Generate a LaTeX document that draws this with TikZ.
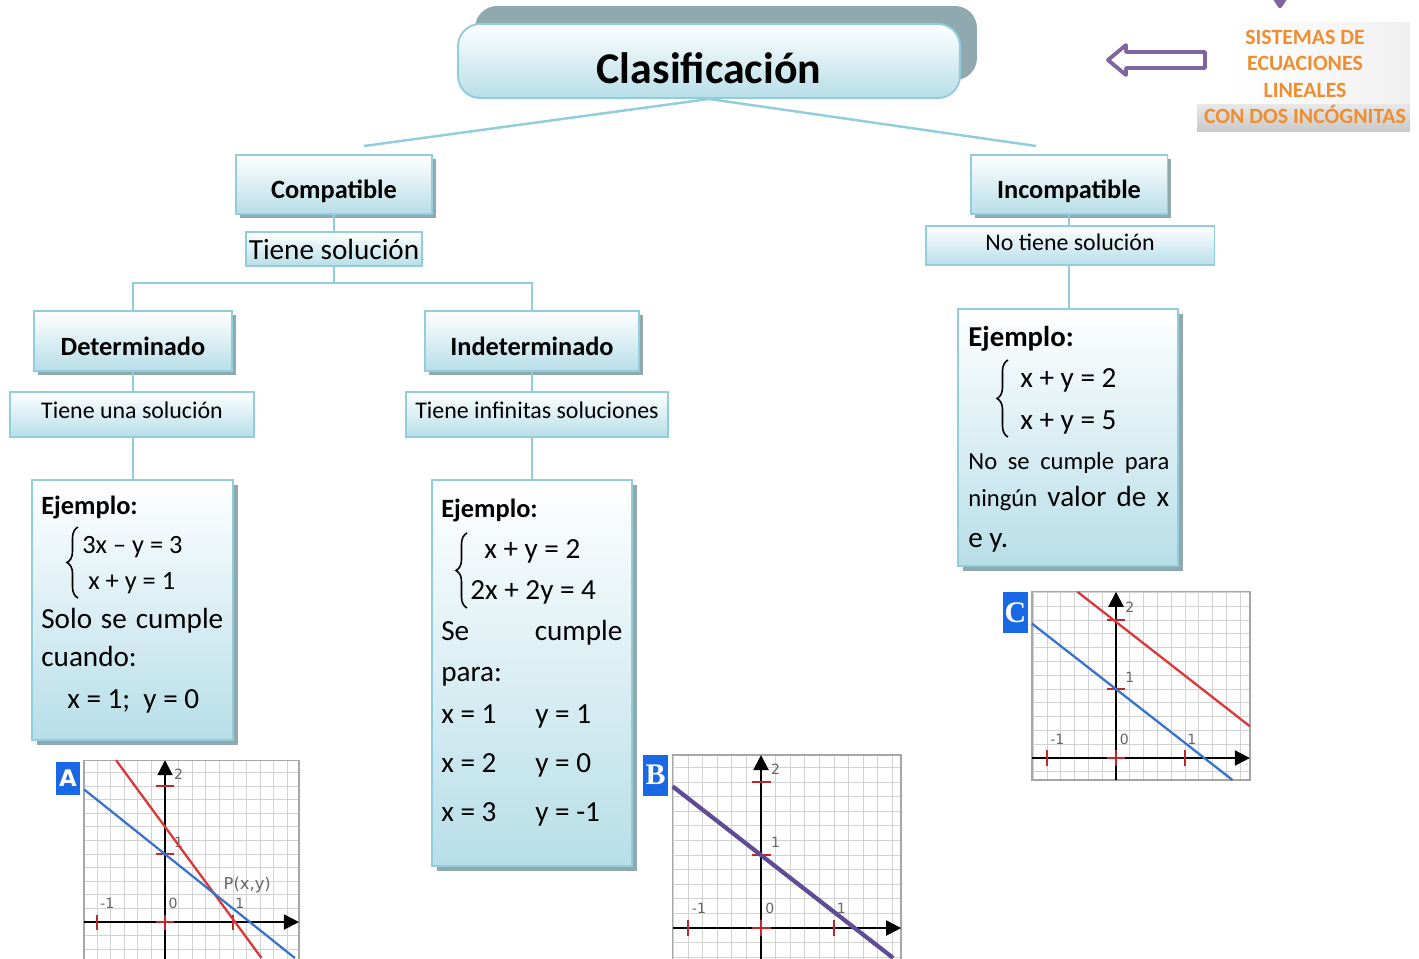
\documentclass[tikz,border=0pt]{standalone}
\usepackage{fontspec}
\setmainfont{Carlito}
\newfontfamily\verdana{DejaVu Sans}
\newfontfamily\serifletra{Liberation Serif}
\usetikzlibrary{arrows.meta,shadows,decorations.pathreplacing}

\definecolor{bordeazul}{RGB}{146,205,221}
\definecolor{fondoazul}{RGB}{183,222,232}
\definecolor{sombra}{RGB}{143,169,175}
\definecolor{naranja}{RGB}{238,142,48}
\definecolor{morado}{RGB}{128,100,162}
\definecolor{letrazul}{RGB}{25,105,230}
\definecolor{rojograf}{RGB}{220,55,55}
\definecolor{azulgraf}{RGB}{55,115,205}
\definecolor{moradograf}{RGB}{95,75,150}
\definecolor{marcaroja}{RGB}{190,40,40}

\tikzset{
  caja/.style={draw=bordeazul, line width=1.1pt, top color=white, bottom color=fondoazul, inner sep=0pt},
  sombreada/.style={drop shadow={shadow xshift=0.08cm, shadow yshift=-0.08cm, fill=sombra, opacity=1}},
  cabecera/.style={caja, sombreada, text height=16pt, text depth=0pt, font=\fontsize{15}{18}\selectfont\bfseries},
  etiqueta/.style={caja, text height=9pt, text depth=5pt, font=\fontsize{13.6}{16}\selectfont},
  ejemplo/.style={caja, drop shadow={shadow xshift=0.1cm, shadow yshift=-0.1cm, fill=sombra, opacity=1}},
  conector/.style={draw=bordeazul, line width=1.4pt},
  texto/.style={anchor=base west, inner sep=0pt, font=\fontsize{16.6}{20}\selectfont},
  negrita/.style={texto, font=\fontsize{15}{18}\selectfont\bfseries},
  ecuacion/.style={texto, font=\fontsize{15}{18}\selectfont},
  llave/.style={decorate, decoration={brace, amplitude=0.22cm}, line width=0.9pt},
  rejilla/.style={step=0.2, draw=gray!35, line width=0.5pt},
  marco/.style={draw=gray!70, line width=0.8pt},
  eje/.style={line width=1.2pt, -{Triangle[length=0.3cm, width=0.3cm]}},
  marca/.style={draw=marcaroja, line width=1.2pt},
  numgraf/.style={inner sep=0pt, text=gray!80!black, font=\verdana\fontsize{8}{9}\selectfont},
  letra/.style={fill=letrazul, text=white, inner sep=0pt, font=\bfseries}
}

% rejilla, ejes y marcas de una grafica: #1 prefijo, #2 xmin, #3 xmax, #4 ymin, #5 ymax
\newcommand{\ejes}[5]{%
  \fill[white] (#2,#4) rectangle (#3,#5);
  \draw[rejilla] (#2,#4) grid (#3,#5);
  \draw[marco] (#2,#4) rectangle (#3,#5);
  \draw[eje] (#2,0) -- (#3,0);
  \draw[eje] (0,#4) -- (0,#5);
  \foreach \t in {-1,0,1} \draw[marca] (\t,-0.11) -- (\t,0.11);
  \foreach \t in {0,1,2} \draw[marca] (-0.13,\t) -- (0.13,\t);
  \node[numgraf] (#1menosuno) at (-0.85,0.27) {-1};
  \node[numgraf] (#1cero) at (0.12,0.27) {0};
  \node[numgraf] (#1unox) at (1.1,0.27) {1};
  \node[numgraf] (#1unoy) at (0.2,1.17) {1};
  \node[numgraf] (#1dos) at (0.2,2.18) {2};
}

\begin{document}
\begin{tikzpicture}[x=0.02cm, y=-0.02cm]
\useasboundingbox (0,0) rectangle (1419,958);

% logo arriba a la derecha
\fill[left color=white, right color=gray!12] (1230,22) rectangle (1410,104);
\fill[top color=gray!18, bottom color=gray!42] (1197,104) rectangle (1410,131);
\node[align=center, text=naranja, inner sep=0pt, font=\fontsize{12.4}{15}\selectfont\bfseries]
  (sistemas) at (1305,77) {SISTEMAS DE\\ECUACIONES\\LINEALES\\CON DOS INCÓGNITAS};
\fill[morado, rounded corners=2pt] (1271,-4) -- (1289,-4) -- (1280,10) -- cycle;
\draw[morado, line width=2.2pt, line join=round, fill=white]
  (1205,52) -- (1126,52) -- (1126,45) -- (1108,60) -- (1126,75) -- (1126,68) -- (1205,68) -- cycle;

% titulo
\node[caja, rounded corners=0.44cm, minimum width=10.04cm, minimum height=1.48cm,
  drop shadow={shadow xshift=0.34cm, shadow yshift=0.36cm, fill=sombra, opacity=1},
  text height=26pt, text depth=0pt,
  font=\fontsize{25}{28}\selectfont\bfseries] (titulo) at (709,61) {Clasificación};
\coordinate (finC) at (364,146);
\coordinate (finI) at (1036,146);
\draw[conector] (titulo.south) -- (finC);
\draw[conector] (titulo.south) -- (finI);

% ramas
\node[cabecera, minimum width=3.92cm, minimum height=1.18cm] (compat) at (334,184.5) {Compatible};
\node[caja, minimum width=3.52cm, minimum height=0.68cm, font=\fontsize{16.6}{20}\selectfont] (tienesol) at (334,249) {Tiene solución};
\node[cabecera, minimum width=3.94cm, minimum height=1.18cm] (incompat) at (1069,184.5) {Incompatible};
\node[etiqueta, minimum width=5.78cm, minimum height=0.78cm, text height=10pt, text depth=4pt] (notiene) at (1070,245.5) {No tiene solución};
\node[cabecera, minimum width=3.96cm, minimum height=1.2cm] (determ) at (133,341) {Determinado};
\node[etiqueta, minimum width=4.88cm, minimum height=0.9cm] (unasol) at (132,414.5) {Tiene una solución};
\node[cabecera, minimum width=4.28cm, minimum height=1.2cm] (indeterm) at (532,341) {Indeterminado};
\node[etiqueta, minimum width=5.24cm, minimum height=0.9cm] (infsol) at (537,414.5) {Tiene infinitas soluciones};
\node[ejemplo, minimum width=4.02cm, minimum height=5.2cm] (ejA) at (132.5,610) {};
\node[ejemplo, minimum width=4.0cm, minimum height=7.72cm] (ejB) at (532,673) {};
\node[ejemplo, minimum width=4.4cm, minimum height=5.14cm] (ejC) at (1068,437.5) {};

\coordinate (rama) at (334,283);
\draw[conector] (compat) -- (tienesol);
\draw[conector] (tienesol) -- (rama);
\draw[conector] (determ.north) |- (rama) -| (indeterm.north);
\draw[conector] (determ.south) -- (determ.south |- unasol.north);
\draw[conector] (determ.south |- unasol.south) -- (determ.south |- ejA.north);
\draw[conector] (indeterm.south) -- (indeterm.south |- infsol.north);
\draw[conector] (indeterm.south |- infsol.south) -- (indeterm.south |- ejB.north);
\draw[conector] (incompat.south) -- (incompat.south |- notiene.north);
\draw[conector] (incompat.south |- notiene.south) -- (incompat.south |- ejC.north);

% ejemplo determinado
\node[negrita] (ejAtit) at (41,514) {Ejemplo:};
\draw[llave] (78,598) -- (78,527);
\node[ecuacion] (ejAec1) at (82,553) {3x – y = 3};
\node[ecuacion] (ejAec2) at (88,589) {x + y = 1};
\node[texto] (ejAt1) at (41,628) {\makebox[3.64cm][s]{Solo se cumple}};
\node[texto] (ejAt2) at (41,666) {cuando:};
\node[texto] (ejAt3) at (67,708) {x = 1;\ \ y = 0};

% ejemplo indeterminado
\node[negrita] (ejBtit) at (441,517) {Ejemplo:};
\draw[llave] (467,608) -- (467,533);
\node[texto] (ejBec1) at (484,558) {x + y = 2};
\node[texto] (ejBec2) at (470,599) {2x + 2y = 4};
\node[texto] (ejBt1) at (441,640) {\makebox[3.62cm][s]{Se cumple}};
\node[texto] (ejBt2) at (441,681) {para:};
\foreach \n/\yb/\vx/\vy in {1/723/1/1, 2/772/2/0, 3/821/3/-1}{
  \node[texto] (ejBx\n) at (441,\yb) {x = \vx};
  \node[texto] (ejBy\n) at (535,\yb) {y = \vy};
}

% ejemplo incompatible
\node[negrita, font=\fontsize{16.4}{19}\selectfont\bfseries] (ejCtit) at (968,346) {Ejemplo:};
\draw[llave] (1008,437) -- (1008,360);
\node[texto] (ejCec1) at (1020,387) {x + y = 2};
\node[texto] (ejCec2) at (1020,429) {x + y = 5};
\node[texto, font=\fontsize{14}{17}\selectfont] (ejCt1) at (968,469) {\makebox[4.02cm][s]{No se cumple para}};
\node[texto] (ejCt2) at (968,506) {\makebox[4.02cm][s]{{\fontsize{14}{17}\selectfont ningún} valor de x}};
\node[texto] (ejCt3) at (968,547) {e y.};

% grafica A
\node[letra, minimum width=0.48cm, minimum height=0.66cm, font=\verdana\bfseries\fontsize{13}{14}\selectfont] (letraA) at (68,778) {A};
\begin{scope}[shift={(165,922)}, x=1.36cm, y=1.36cm]
  \ejes{A}{-1.19}{1.97}{-0.55}{2.38}
  \draw[rojograf, line width=1.3pt] (-0.72,2.38) -- (1.42,-0.53);
  \draw[azulgraf, line width=1.3pt] (-1.19,1.95) -- (1.91,-0.53);
  \node[numgraf, font=\verdana\fontsize{9.3}{10}\selectfont] (puntoP) at (1.21,0.54) {P(x,y)};
\end{scope}

% grafica B
\node[letra, minimum width=0.5cm, minimum height=0.82cm, font=\serifletra\bfseries\fontsize{17}{18}\selectfont] (letraB) at (655.5,775) {B};
\begin{scope}[shift={(761,928)}, x=1.46cm, y=1.46cm]
  \ejes{B}{-1.21}{1.92}{-0.45}{2.37}
  \draw[moradograf, line width=2.4pt] (-1.21,1.94) -- (1.81,-0.41);
\end{scope}

% grafica C
\node[letra, minimum width=0.5cm, minimum height=0.82cm, font=\serifletra\bfseries\fontsize{17}{18}\selectfont] (letraC) at (1015.5,612.5) {C};
\begin{scope}[shift={(1116,758)}, x=1.38cm, y=1.38cm]
  \ejes{C}{-1.22}{1.94}{-0.32}{2.41}
  \draw[azulgraf, line width=1.3pt] (-1.22,1.95) -- (1.69,-0.32);
  \draw[rojograf, line width=1.3pt] (-0.56,2.41) -- (1.94,0.46);
\end{scope}
\end{tikzpicture}
\end{document}
